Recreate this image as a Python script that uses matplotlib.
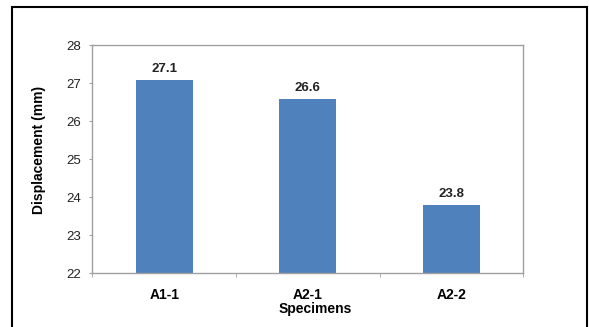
import matplotlib.pyplot as plt
from matplotlib.patches import Rectangle

# data
specimens = ["A1-1", "A2-1", "A2-2"]
displacement = [27.1, 26.6, 23.8]
y_ticks = [22, 23, 24, 25, 26, 27, 28]

BAR_COLOR = "#4F81BD"
SPINE_COLOR = "#A0A0A0"

plt.rcParams["font.family"] = ["Liberation Sans", "DejaVu Sans"]

fig = plt.figure(figsize=(5.89, 3.27), dpi=100)
ax = fig.add_axes([0.157, 0.164, 0.731, 0.697])

# outer black frame (bottom edge runs off the image)
fig.patches.append(Rectangle((12 / 589, -0.1), 575 / 589, 1.0 - 7 / 327 + 0.1,
                             transform=fig.transFigure, fill=False,
                             edgecolor="black", linewidth=1.5, clip_on=False))

x = range(len(specimens))
bars = ax.bar(x, displacement, width=0.4, color=BAR_COLOR, zorder=2)

for rect, val in zip(bars, displacement):
    ax.annotate(f"{val:.1f}", (rect.get_x() + rect.get_width() / 2, val),
                xytext=(0, 3.3), textcoords="offset points",
                ha="center", va="bottom", fontsize=9.5, fontweight="bold",
                color="#222222")

ax.set_xlim(-0.5, len(specimens) - 0.5)
ax.set_ylim(22, 28)
ax.set_yticks(y_ticks)
ax.set_xticks(list(x))
ax.set_xticklabels(specimens, fontsize=10, fontweight="bold")
ax.set_xticks([i - 0.5 for i in range(len(specimens) + 1)], minor=True)
ax.tick_params(axis="x", which="major", length=0, pad=10.5)
ax.tick_params(axis="x", which="minor", length=3, color=SPINE_COLOR, direction="out")
ax.tick_params(axis="y", length=2.5, color=SPINE_COLOR, pad=5.4, labelsize=9.5,
               labelcolor="#222222")

for spine in ax.spines.values():
    spine.set_color(SPINE_COLOR)
    spine.set_linewidth(1.0)

ax.set_ylabel("Displacement (mm)", fontsize=10, fontweight="bold")
ax.set_xlabel("Specimens", fontsize=10, fontweight="bold")
ax.yaxis.set_label_coords(-0.108, 0.54)
ax.xaxis.set_label_coords(0.5175, -0.125)

fig.savefig("out.png", dpi=100)
